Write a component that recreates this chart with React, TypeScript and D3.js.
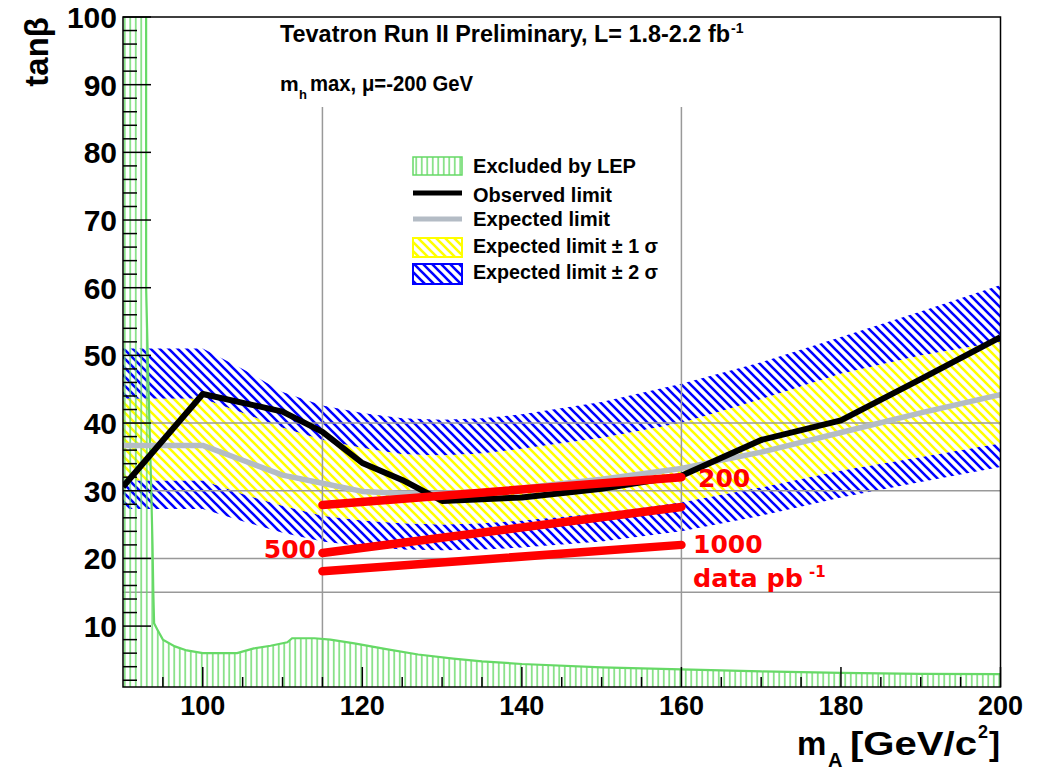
import React from 'react';
import * as d3 from 'd3';

// ---- data ----
const massPoints = [90, 100, 105, 110, 115, 120, 125, 130, 135, 140, 150, 160, 170, 180, 190, 200];
const twoSigmaUp = [51, 51, 48, 44.6, 42.6, 41.5, 40.7, 40.5, 40.7, 41.3, 43.1, 45.8, 49, 52.7, 56.5, 60.4];
const oneSigmaUp = [43.6, 43.6, 41.5, 39.3, 37.5, 36.3, 35.4, 35.2, 35.5, 36.2, 37.8, 40, 43.5, 47.3, 50, 52];
const expectedLimit = [36.7, 36.7, 34.5, 32.3, 31.1, 29.9, 29.6, 29.6, 29.9, 30.4, 31.7, 33.3, 35.7, 38.6, 41.5, 44.2];
const oneSigmaDown = [31.5, 31.5, 29.5, 27.8, 26.3, 25.6, 25.2, 25, 25.2, 25.6, 26.7, 28.3, 30.5, 33, 35, 37];
const twoSigmaDown = [27.3, 27.3, 25.5, 23.8, 22.5, 21.8, 21.3, 21.2, 21.3, 21.6, 22.5, 24, 26.3, 29, 31.3, 33.5];

const observedMass = [90, 100, 110, 115, 120, 125, 130, 140, 150, 160, 170, 180, 190, 200];
const observedLimit = [30.6, 44.3, 41.7, 38.7, 34.1, 31.6, 28.5, 29.0, 30.3, 32.2, 37.5, 40.4, 46.5, 52.7];

const projMass = [115, 160];
const proj200 = [27.9, 32.0];
const proj500 = [20.8, 27.6];
const proj1000 = [18.1, 22.0];

const lepMass = [92.9, 92.9, 93.2, 93.5, 93.7, 93.8, 93.9, 94.3, 95, 96.5, 98, 100, 102, 104.3, 106.4, 108.5, 110.6, 111.2, 114, 116, 119, 123, 127, 131.4, 135, 140, 150, 160, 170, 180, 190, 200];
const lepTanb = [100, 60, 45, 32, 22, 15, 10.4, 9.5, 8.0, 7.0, 6.4, 6.0, 6.0, 6.0, 6.7, 7.1, 7.6, 8.2, 8.2, 8.0, 7.45, 6.6, 5.8, 5.2, 4.8, 4.4, 3.9, 3.6, 3.3, 3.1, 2.95, 2.9];

const xDomain = [90, 200];
const yDomain = [1, 100];
const xTickLabels = [100, 120, 140, 160, 180, 200];
const yTickLabels = [10, 20, 30, 40, 50, 60, 70, 80, 90, 100];
const hGrid = [15, 20, 30, 40];
const vGrid = [115, 160];
const vGridTop = 86.7;

const FONT = '"Liberation Sans", Arial, Helvetica, sans-serif';
const RED_FONT = '"DejaVu Sans", sans-serif';

export default function App() {
  const x = d3.scaleLinear().domain(xDomain).range([123, 1000.5]);
  const y = d3.scaleLinear().domain(yDomain).range([687, 17]);
  const [x0, x1] = x.range();
  const [y0, y1] = y.range();

  const band = (lo: number[], hi: number[]) =>
    d3
      .area<number>()
      .x((d) => x(d))
      .y0((_, i) => y(lo[i]))
      .y1((_, i) => y(hi[i]))(massPoints) as string;

  const lineOf = (xs: number[], ys: number[]) =>
    d3
      .line<number>()
      .x((d) => x(d))
      .y((_, i) => y(ys[i]))(xs) as string;

  const lepPolyPts: [number, number][] = [
    [xDomain[0], yDomain[0]],
    [xDomain[0], yDomain[1]],
    ...lepMass.map((m, i) => [m, lepTanb[i]] as [number, number]),
    [xDomain[1], yDomain[0]],
  ];
  const lepPoly = (d3
    .line<[number, number]>()
    .x((d) => x(d[0]))
    .y((d) => y(d[1]))(lepPolyPts) as string) + 'Z';

  const yMinor = d3.range(2, 100, 2).filter((v) => v % 10 !== 0);
  const xMinor = d3.range(95, 200, 5).filter((v) => (v - 100) % 20 !== 0);

  return (
    <svg width={1037} height={770} style={{ position: 'absolute', left: 0, top: 0, background: '#fff' }}>
      <defs>
        <clipPath id="frame">
          <rect x={x0} y={y1} width={x1 - x0} height={y0 - y1} />
        </clipPath>
        <pattern id="blueHatch" patternUnits="userSpaceOnUse" width={9} height={9}>
          <path d="M-1,-1 L10,10 M-1,8 L1,10 M8,-1 L10,1" stroke="#0000ff" strokeWidth={2.6} />
        </pattern>
        <pattern id="yellowHatch" patternUnits="userSpaceOnUse" width={9} height={9}>
          <path d="M-1,-1 L10,10 M-1,8 L1,10 M8,-1 L10,1" stroke="#ffff00" strokeWidth={2.6} />
        </pattern>
        <pattern id="greenHatch" patternUnits="userSpaceOnUse" width={5.5} height={10} x={1}>
          <line x1={2.75} y1={0} x2={2.75} y2={10} stroke="#66d966" strokeWidth={1.4} />
        </pattern>
        <pattern id="blueHatchL" patternUnits="userSpaceOnUse" width={9} height={9} x={413} y={263}>
          <path d="M-1,-1 L10,10 M-1,8 L1,10 M8,-1 L10,1" stroke="#0000ff" strokeWidth={2.6} />
        </pattern>
      </defs>

      <rect x={0} y={0} width={1037} height={770} fill="#fff" />

      <g clipPath="url(#frame)">
        {/* +-2 sigma band */}
        <path d={band(twoSigmaDown, twoSigmaUp)} fill="url(#blueHatch)" />
        {/* +-1 sigma band */}
        <path d={band(oneSigmaDown, oneSigmaUp)} fill="#fff" />
        <path d={band(oneSigmaDown, oneSigmaUp)} fill="url(#yellowHatch)" />

        {/* grid lines */}
        {hGrid.map((v) => (
          <line key={'h' + v} x1={x0} x2={x1} y1={y(v)} y2={y(v)} stroke="#999" strokeWidth={1.5} />
        ))}
        {vGrid.map((v) => (
          <line key={'v' + v} x1={x(v)} x2={x(v)} y1={y(vGridTop)} y2={y0} stroke="#999" strokeWidth={1.5} />
        ))}

        {/* LEP exclusion */}
        <path d={lepPoly} fill="url(#greenHatch)" />
        <path d={lineOf(lepMass, lepTanb)} fill="none" stroke="#66d966" strokeWidth={2.2} />

        {/* expected / observed */}
        <path d={lineOf(massPoints, expectedLimit)} fill="none" stroke="#b4bcc5" strokeWidth={5.5} strokeLinejoin="round" />
        <path d={lineOf(observedMass, observedLimit)} fill="none" stroke="#000" strokeWidth={6} strokeLinejoin="round" />

        {/* projections */}
        {[proj200, proj500, proj1000].map((p, k) => (
          <path key={k} d={lineOf(projMass, p)} fill="none" stroke="#ff0000" strokeWidth={8.5} strokeLinecap="round" />
        ))}
      </g>

      {/* frame */}
      <rect x={x0} y={y1} width={x1 - x0} height={y0 - y1} fill="none" stroke="#000" strokeWidth={1.5} />

      {/* ticks */}
      {yTickLabels.map((v) => (
        <line key={'ym' + v} x1={x0} x2={x0 + 28} y1={y(v)} y2={y(v)} stroke="#000" strokeWidth={1.5} />
      ))}
      {yMinor.map((v) => (
        <line key={'yn' + v} x1={x0} x2={x0 + 14} y1={y(v)} y2={y(v)} stroke="#000" strokeWidth={1.5} />
      ))}
      {xTickLabels.map((v) => (
        <line key={'xm' + v} x1={x(v)} x2={x(v)} y1={y0} y2={y0 - 20} stroke="#000" strokeWidth={1.5} />
      ))}
      {xMinor.map((v) => (
        <line key={'xn' + v} x1={x(v)} x2={x(v)} y1={y0} y2={y0 - 10} stroke="#000" strokeWidth={1.5} />
      ))}

      {/* tick labels */}
      <g fontFamily={FONT} fontWeight="bold" fill="#000">
        {yTickLabels.map((v) => (
          <text key={'yl' + v} x={117} y={y(v) + 11} fontSize={30} textAnchor="end">
            {v}
          </text>
        ))}
        {xTickLabels.map((v) => (
          <text key={'xl' + v} x={x(v)} y={715} fontSize={27} textAnchor="middle">
            {v}
          </text>
        ))}

        {/* axis titles */}
        <text transform="translate(48,17) rotate(-90)" fontSize={33} textAnchor="end">
          tanβ
        </text>
        <text x={797} y={755} fontSize={33}>m</text>
        <text x={828} y={767} fontSize={20}>A</text>
        <text x={850} y={755} fontSize={33} textLength={127} lengthAdjust="spacingAndGlyphs">[GeV/c</text>
        <text x={978} y={738} fontSize={18}>2</text>
        <text x={989} y={755} fontSize={33}>]</text>

        {/* title */}
        <text x={280} y={42} fontSize={23} textLength={450} lengthAdjust="spacingAndGlyphs">
          Tevatron Run II Preliminary, L= 1.8-2.2 fb
        </text>
        <text x={731} y={33} fontSize={14}>-1</text>
        <text x={280} y={91} fontSize={21}>m</text>
        <text x={299} y={99} fontSize={13}>h</text>
        <text x={310} y={91} fontSize={22} textLength={163} lengthAdjust="spacingAndGlyphs">
          max, μ=-200 GeV
        </text>

        {/* legend */}
        <rect x={413} y={157} width={49} height={18} fill="url(#greenHatch)" stroke="#66d966" strokeWidth={1.5} />
        <text x={473} y={173} fontSize={20} textLength={163} lengthAdjust="spacingAndGlyphs">Excluded by LEP</text>
        <line x1={413} x2={462} y1={193} y2={193} stroke="#000" strokeWidth={5} />
        <text x={473} y={202} fontSize={20} textLength={139} lengthAdjust="spacingAndGlyphs">Observed limit</text>
        <line x1={413} x2={462} y1={219} y2={219} stroke="#b4bcc5" strokeWidth={5} />
        <text x={473} y={226} fontSize={20} textLength={137} lengthAdjust="spacingAndGlyphs">Expected limit</text>
        <rect x={413} y={238} width={49} height={19} fill="url(#yellowHatch)" stroke="#ffff00" strokeWidth={2} />
        <text x={473} y={253} fontSize={20} textLength={185} lengthAdjust="spacingAndGlyphs">Expected limit ± 1 σ</text>
        <rect x={413} y={264} width={49} height={20} fill="url(#blueHatchL)" stroke="#0000ff" strokeWidth={2} />
        <text x={473} y={279} fontSize={20} textLength={185} lengthAdjust="spacingAndGlyphs">Expected limit ± 2 σ</text>
      </g>

      {/* red projection labels */}
      <g fontFamily={RED_FONT} fontWeight="bold" fill="#ff0000">
        <text x={698} y={487} fontSize={25}>200</text>
        <text x={316} y={558} fontSize={25} textAnchor="end">500</text>
        <text x={693} y={553} fontSize={25}>1000</text>
        <text x={693} y={587} fontSize={25} textLength={110} lengthAdjust="spacingAndGlyphs">data pb</text>
        <text x={809} y={577} fontSize={15}>-1</text>
      </g>
    </svg>
  );
}
